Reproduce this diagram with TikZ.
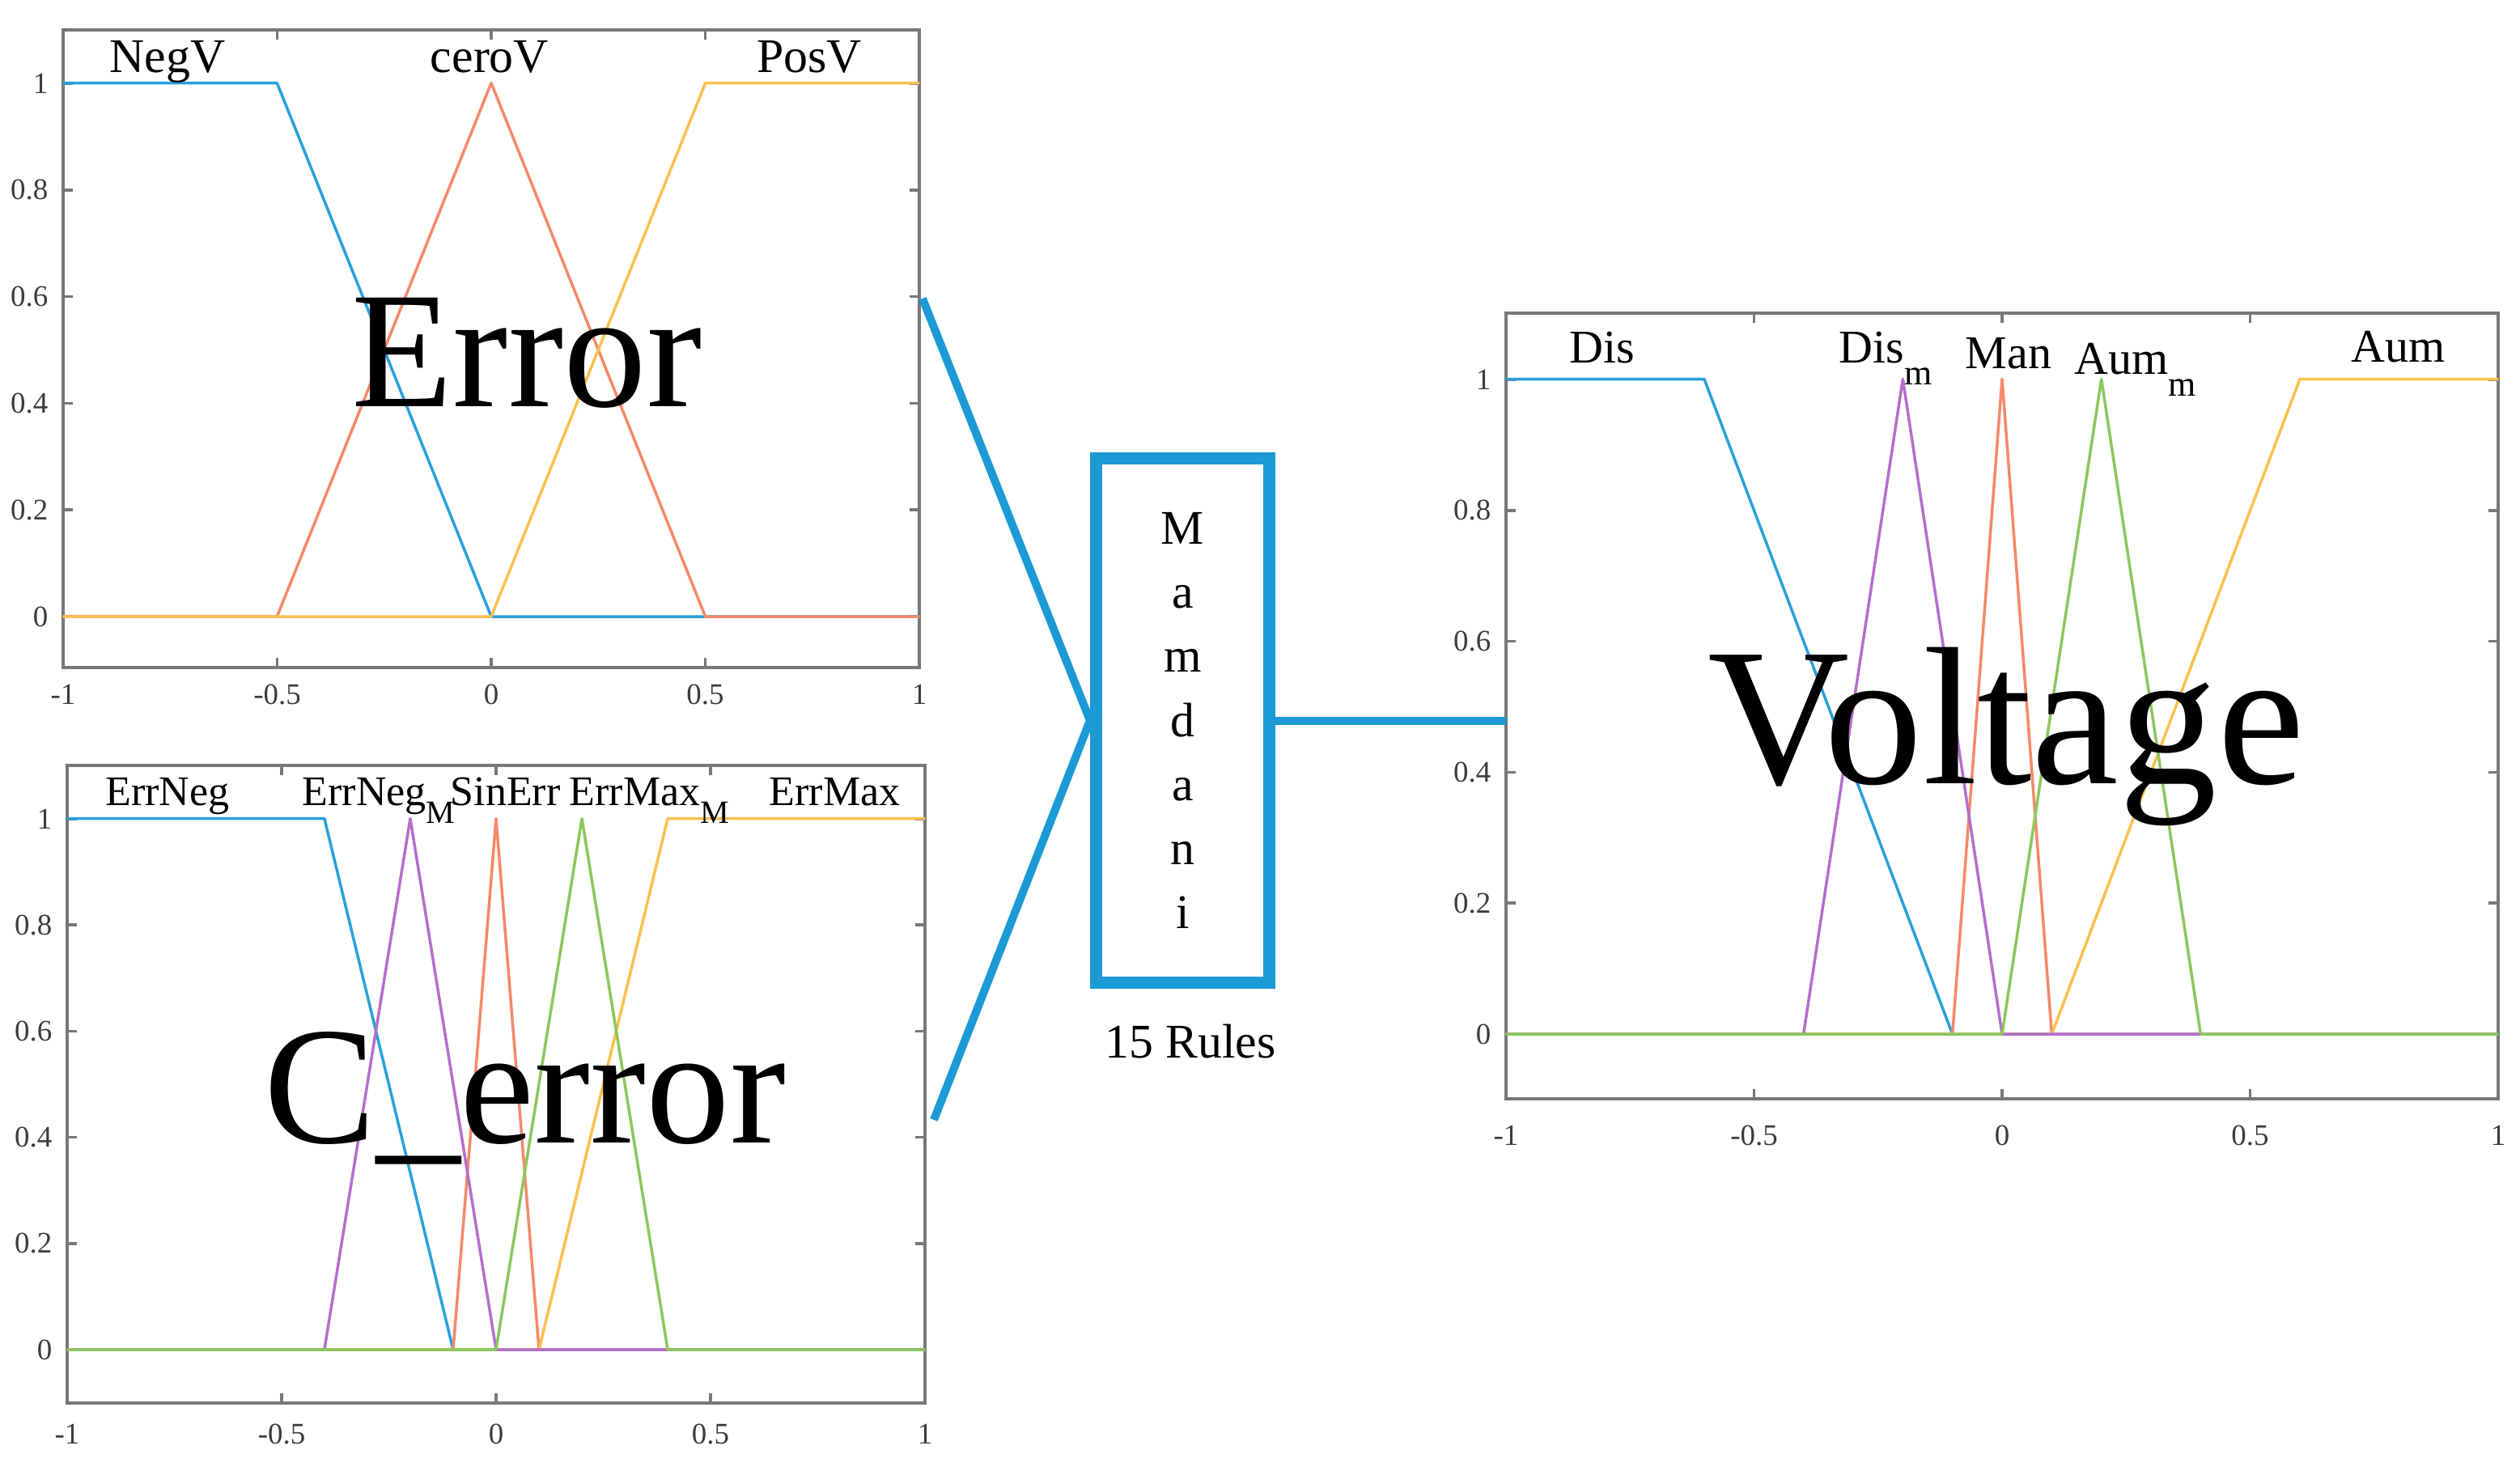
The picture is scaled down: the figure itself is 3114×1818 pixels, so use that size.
\documentclass[tikz,border=0pt]{standalone}
\usepackage{fontspec}
\setmainfont{Liberation Serif}
\definecolor{mblue}{HTML}{2AA0DA}
\definecolor{mred}{HTML}{F4896B}
\definecolor{myellow}{HTML}{FBC04F}
\definecolor{mpurple}{HTML}{B46FCA}
\definecolor{mgreen}{HTML}{8DC75E}
\definecolor{conn}{HTML}{1C9AD6}
\definecolor{axgray}{HTML}{787878}
\definecolor{ticktxt}{HTML}{3C3C3C}
\tikzset{
  axbox/.style={draw=axgray, line width=0.04cm, inner sep=0pt, outer sep=0pt},
  tickmark/.style={draw=axgray, line width=0.035cm},
  ticklab/.style={text=ticktxt, font=\fontsize{10.5}{12}\selectfont, inner sep=0pt},
  mf/.style={line width=0.035cm, line join=round},
  labA/.style={font=\fontsize{17}{20}\selectfont, inner sep=0pt, anchor=base},
  labB/.style={font=\fontsize{14.8}{17}\selectfont, inner sep=0pt, anchor=base west},
  labC/.style={font=\fontsize{16.5}{19}\selectfont, inner sep=0pt, anchor=base west},
  bigtxt/.style={inner sep=0pt, anchor=base},
  conline/.style={draw=conn, line width=0.1cm, line join=round},
  mambox/.style={draw=conn, line width=0.15cm, fill=white, inner sep=0pt,
    minimum width=2.14cm, minimum height=6.47cm, align=center,
    font=\fontsize{17}{22.5}\selectfont}
}
\newcommand{\lowsub}[3]{\raisebox{-#1}{\fontsize{#2}{#2}\selectfont #3}}
% name, L, R, T, B, Y0, YU, xlabel offset
\newcommand{\mfaxes}[8]{%
  \node[axbox, minimum width={(#3-#2)*0.01cm}, minimum height={(#5-#4)*0.01cm}] (#1) at ({(#2+#3)/2},{(#4+#5)/2}) {};
  \foreach \v/\t [count=\k] in {0/0,0.2/0.2,0.4/0.4,0.6/0.6,0.8/0.8,1/1}{
    \pgfmathsetmacro{\yy}{#6-\v*#7}
    \draw[tickmark] (#2,\yy) -- ++(12,0);
    \draw[tickmark] (#3,\yy) -- ++(-12,0);
    \node[ticklab, anchor=east] (#1-y\k) at ({#2-18},\yy) {\t};
  }
  \foreach \v/\t [count=\k] in {-1/-1,-0.5/-0.5,0/0,0.5/0.5,1/1}{
    \pgfmathsetmacro{\xx}{#2+(\v+1)*(#3-#2)/2}
    \draw[tickmark] (\xx,#5) -- ++(0,-12);
    \draw[tickmark] (\xx,#4) -- ++(0,12);
    \node[ticklab] (#1-x\k) at (\xx,{#5+#8}) {\t};
  }
}
\begin{document}
\begin{tikzpicture}[x=0.01cm, y=-0.01cm]
\useasboundingbox (0,0) rectangle (3114,1818);

% ---------- Plot 1: Error ----------
\mfaxes{errplot}{78}{1136}{37}{825}{762}{659}{33}
\begin{scope}[shift={(607,762)}, x=5.29cm, y=6.59cm]
  \draw[mf, mblue] (-1,1) -- (-0.5,1) -- (0,0) -- (1,0);
  \draw[mf, mred] (-1,0) -- (-0.5,0) -- (0,1) -- (0.5,0) -- (1,0);
  \draw[mf, myellow] (-1,0) -- (0,0) -- (0.5,1) -- (1,1);
\end{scope}
\node[labA] (negv) at (207,89) {NegV};
\node[labA] (cerov) at (605,89) {ceroV};
\node[labA] (posv) at (1000,89) {PosV};
\node[bigtxt, font=\fontsize{58.3}{60}\selectfont] (errtxt) at (651,502) {Error};

% ---------- Plot 2: C_error ----------
\mfaxes{cerrplot}{83}{1143}{946}{1734}{1668}{656}{38}
\begin{scope}[shift={(613,1668)}, x=5.30cm, y=6.56cm]
  \draw[mf, mblue] (-1,1) -- (-0.4,1) -- (-0.1,0) -- (1,0);
  \draw[mf, mred] (-1,0) -- (-0.1,0) -- (0,1) -- (0.1,0) -- (1,0);
  \draw[mf, myellow] (-1,0) -- (0.1,0) -- (0.4,1) -- (1,1);
  \draw[mf, mpurple] (-1,0) -- (-0.4,0) -- (-0.2,1) -- (0,0) -- (1,0);
  \draw[mf, mgreen] (-1,0) -- (0,0) -- (0.2,1) -- (0.4,0) -- (1,0);
\end{scope}
\node[labB, anchor=base] (errneg) at (207,995) {ErrNeg};
\node[labB] (errnegm) at (373,995) {ErrNeg\lowsub{6.3pt}{11.4pt}{M}};
\node[labB] (sinerr) at (556,995) {SinErr};
\node[labB] (errmaxm) at (703,995) {ErrMax\lowsub{6.3pt}{11.4pt}{M}};
\node[labB] (errmax) at (950,995) {ErrMax};
\node[bigtxt, font=\fontsize{58.9}{60}\selectfont] (cerrtxt) at (649,1412) {C\_error};

% ---------- Plot 3: Voltage ----------
\mfaxes{voltplot}{1861}{3087}{387}{1358}{1278}{809}{45}
\begin{scope}[shift={(2474,1278)}, x=6.13cm, y=8.09cm]
  \draw[mf, mblue] (-1,1) -- (-0.6,1) -- (-0.1,0) -- (1,0);
  \draw[mf, mred] (-1,0) -- (-0.1,0) -- (0,1) -- (0.1,0) -- (1,0);
  \draw[mf, myellow] (-1,0) -- (0.1,0) -- (0.6,1) -- (1,1);
  \draw[mf, mpurple] (-1,0) -- (-0.4,0) -- (-0.2,1) -- (0,0) -- (1,0);
  \draw[mf, mgreen] (-1,0) -- (0,0) -- (0.2,1) -- (0.4,0) -- (1,0);
\end{scope}
\node[labC, anchor=base] (dis) at (1980,448) {Dis};
\node[labC] (dism) at (2272,448) {Dis\lowsub{7.7pt}{12.5pt}{m}};
\node[labC] (man) at (2428,455) {Man};
\node[labC] (aumm) at (2563,462) {Aum\lowsub{7.9pt}{12.5pt}{m}};
\node[labC] (aum) at (2905,447) {Aum};
\node[bigtxt, font=\fontsize{69}{70}\selectfont] (volttxt) at (2479,968) {Voltage};

% ---------- Mamdani block ----------
\node[mambox] (mam) at (1461.5,890.5) {M\\a\\m\\d\\a\\n\\i};
\node[font=\fontsize{17}{20}\selectfont, inner sep=0pt, anchor=base] (rules) at (1471,1307) {15 Rules};

\coordinate (e1) at (1140,369);
\coordinate (c1) at (1154,1384);
\draw[conline] (e1) -- (mam.west) -- (c1);
\draw[conline] (mam.east) -- (mam.east -| voltplot.west);
\end{tikzpicture}
\end{document}
